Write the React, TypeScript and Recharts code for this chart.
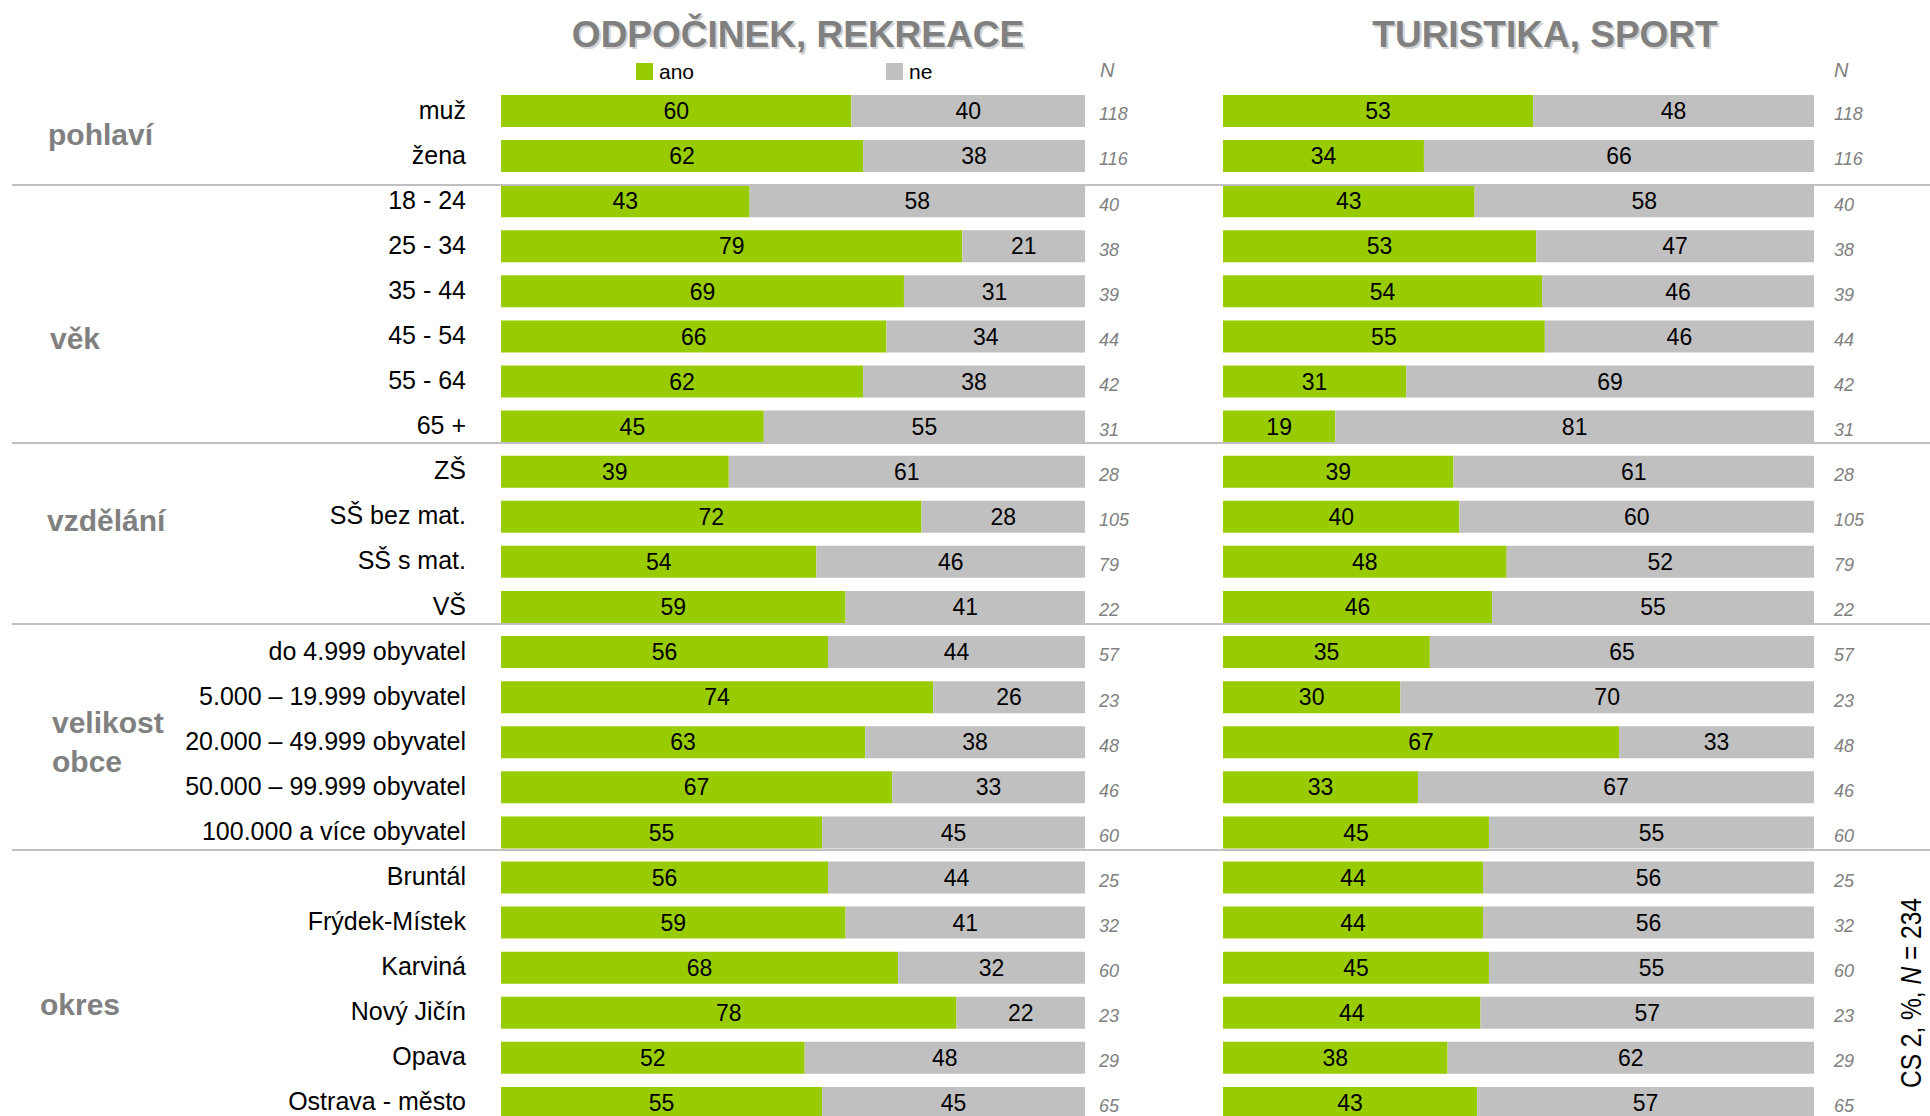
import React from 'react';
import { BarChart, Bar, XAxis, YAxis, LabelList, Legend } from 'recharts';

// row labels, top to bottom
const categories = [
    'muž', 'žena',
    '18 - 24', '25 - 34', '35 - 44', '45 - 54', '55 - 64', '65 +',
    'ZŠ', 'SŠ bez mat.', 'SŠ s mat.', 'VŠ',
    'do 4.999 obyvatel', '5.000 – 19.999 obyvatel', '20.000 – 49.999 obyvatel', '50.000 – 99.999 obyvatel', '100.000 a více obyvatel',
    'Bruntál', 'Frýdek-Místek', 'Karviná', 'Nový Jičín', 'Opava', 'Ostrava - město',
];

const respondents = [118, 116, 40, 38, 39, 44, 42, 31, 28, 105, 79, 22, 57, 23, 48, 46, 60, 25, 32, 60, 23, 29, 65];

// ODPOČINEK, REKREACE
const restAno = [60, 62, 43, 79, 69, 66, 62, 45, 39, 72, 54, 59, 56, 74, 63, 67, 55, 56, 59, 68, 78, 52, 55];
const restNe = [40, 38, 58, 21, 31, 34, 38, 55, 61, 28, 46, 41, 44, 26, 38, 33, 45, 44, 41, 32, 22, 48, 45];

// TURISTIKA, SPORT
const sportAno = [53, 34, 43, 53, 54, 55, 31, 19, 39, 40, 48, 46, 35, 30, 67, 33, 45, 44, 44, 45, 44, 38, 43];
const sportNe = [48, 66, 58, 47, 46, 46, 69, 81, 61, 60, 52, 55, 65, 70, 33, 67, 55, 56, 56, 55, 57, 62, 57];

const groupNames = [['pohlaví'], ['věk'], ['vzdělání'], ['velikost', 'obce'], ['okres']];
const panelTitles = ['ODPOČINEK, REKREACE', 'TURISTIKA, SPORT'];
const seriesNames = ['ano', 'ne'];

const GREEN = '#99CC00';
const GRAY = '#C0C0C0';
const LABEL_GRAY = '#808080';
const FONT = '"Liberation Sans", Arial, Helvetica, sans-serif';

// layout of the group captions (x, baselines) and the separator rules
const groupPos = [
    { x: 48, y: [145] },
    { x: 50, y: [349] },
    { x: 47, y: [531] },
    { x: 52, y: [733, 772] },
    { x: 40, y: [1015] },
];
const ruleY = [184, 442, 623, 849];
const legendX: Record<string, number> = { ano: 636, ne: 886 };

const buildRows = (ano: number[], ne: number[]) =>
    categories.map((label, i) => ({ label, ano: ano[i], ne: ne[i], n: respondents[i] }));

const restRows = buildRows(restAno, restNe);
const sportRows = buildRows(sportAno, sportNe);

const CategoryTick = (props: any) => {
    const { y, payload } = props;
    return (
        <text x={466} y={y} dy={8} textAnchor="end" fontSize={25} fill="#000" fontFamily={FONT}>
            {payload.value}
        </text>
    );
};

const renderLegend = (props: any) => {
    const items = props.payload || [];
    return (
        <div style={{ position: 'relative', height: 30 }}>
            {items.map((item: any) => (
                <div key={item.value} style={{ position: 'absolute', left: legendX[item.value], top: 0 }}>
                    <div style={{ position: 'absolute', left: 0, top: 5, width: 17, height: 17, background: item.color }} />
                    <div style={{ position: 'absolute', left: 23, top: 2, fontSize: 21, lineHeight: '24px', fontFamily: FONT, color: '#000' }}>
                        {item.value}
                    </div>
                </div>
            ))}
        </div>
    );
};

interface PanelProps {
    data: { label: string; ano: number; ne: number; n: number }[];
    left: number;
    width: number;
    marginLeft: number;
    marginRight: number;
    nOffset: number;
    showCategories: boolean;
    showLegend: boolean;
}

const Panel: React.FC<PanelProps> = ({ data, left, width, marginLeft, marginRight, nOffset, showCategories, showLegend }) => (
    <div style={{ position: 'absolute', left, top: 0 }}>
        <BarChart
            width={width}
            height={1130}
            data={data}
            layout="vertical"
            stackOffset="expand"
            margin={{ top: 88, right: marginRight, bottom: 5, left: marginLeft }}
        >
            <XAxis type="number" domain={[0, 1]} hide />
            {showCategories ? (
                <YAxis type="category" dataKey="label" width={501} axisLine={false} tickLine={false} tick={<CategoryTick />} interval={0} />
            ) : (
                <YAxis type="category" dataKey="label" hide />
            )}
            {showLegend && (
                <Legend
                    layout="horizontal"
                    verticalAlign="middle"
                    align="center"
                    content={renderLegend}
                    wrapperStyle={{ top: 58, left: 0, width: 1140, height: 30 }}
                />
            )}
            <Bar dataKey="ano" name={seriesNames[0]} stackId="a" fill={GREEN} barSize={32} isAnimationActive={false}>
                <LabelList dataKey="ano" position="center" fill="#000" fontSize={23} fontFamily={FONT} />
            </Bar>
            <Bar dataKey="ne" name={seriesNames[1]} stackId="a" fill={GRAY} barSize={32} isAnimationActive={false}>
                <LabelList dataKey="ne" position="center" fill="#000" fontSize={23} fontFamily={FONT} />
                <LabelList dataKey="n" position="right" offset={nOffset} fill={LABEL_GRAY} fontSize={18} fontStyle="italic" fontFamily={FONT} dy={3} />
            </Bar>
        </BarChart>
    </div>
);

const App: React.FC = () => (
    <div style={{ position: 'absolute', left: 0, top: 0, width: 1930, height: 1116, overflow: 'hidden', background: '#fff', fontFamily: FONT }}>
        <Panel data={restRows} left={0} width={1140} marginLeft={0} marginRight={55} nOffset={14} showCategories showLegend />
        <Panel data={sportRows} left={1100} width={830} marginLeft={123} marginRight={116} nOffset={20} showCategories={false} showLegend={false} />
        <svg width={1930} height={1116} style={{ position: 'absolute', left: 0, top: 0, pointerEvents: 'none' }} fontFamily={FONT}>
            {panelTitles.map((t, i) => {
                const cx = i === 0 ? 798 : 1545;
                return (
                    <g key={t}>
                        <text x={cx + 2} y={49} textAnchor="middle" fontSize={37} fontWeight="bold" fill="#d4d4d4">{t}</text>
                        <text x={cx} y={47} textAnchor="middle" fontSize={37} fontWeight="bold" fill={LABEL_GRAY}>{t}</text>
                    </g>
                );
            })}
            <text x={1100} y={77} fontSize={20} fontStyle="italic" fill={LABEL_GRAY}>N</text>
            <text x={1834} y={77} fontSize={20} fontStyle="italic" fill={LABEL_GRAY}>N</text>
            {groupNames.map((lines, gi) =>
                lines.map((line, li) => (
                    <text key={line} x={groupPos[gi].x} y={groupPos[gi].y[li]} fontSize={30} fontWeight="bold" fill={LABEL_GRAY}>
                        {line}
                    </text>
                ))
            )}
            {ruleY.map((y) => (
                <rect key={y} x={12} y={y} width={1918} height={2} fill={GRAY} />
            ))}
            <text transform="translate(1921, 993) rotate(-90)" textAnchor="middle" fontSize={30} fill="#000" textLength={190} lengthAdjust="spacingAndGlyphs">
                CS 2, %, <tspan fontStyle="italic">N</tspan> = 234
            </text>
        </svg>
    </div>
);

export default App;
